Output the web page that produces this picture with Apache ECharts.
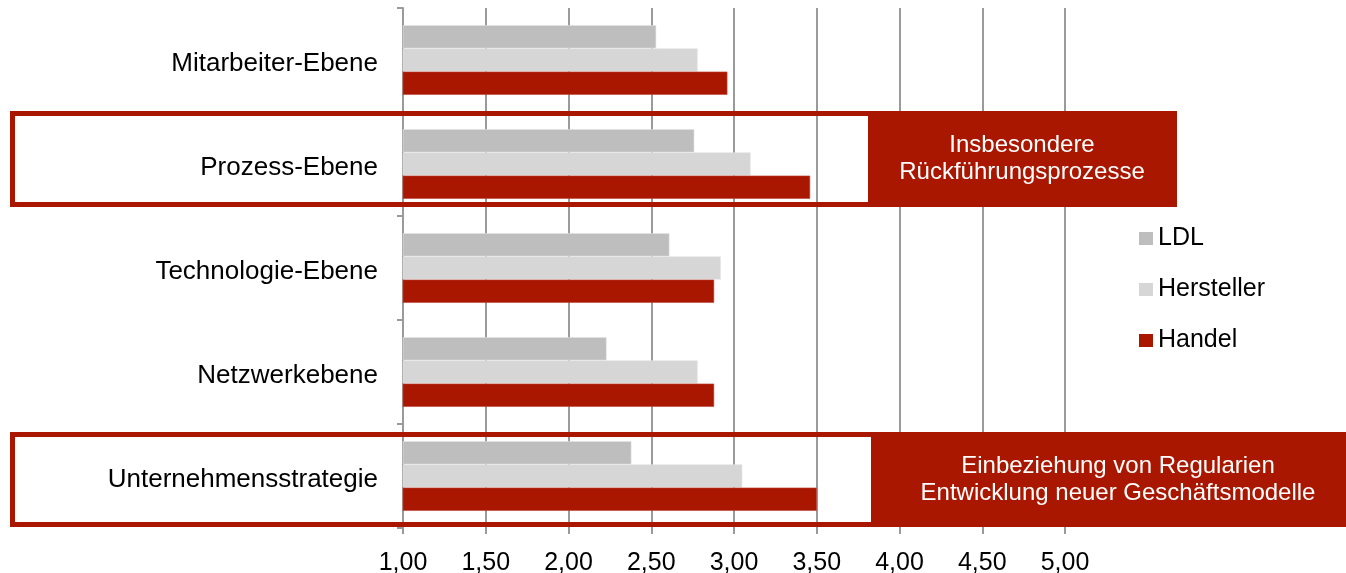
<!DOCTYPE html>
<html>
<head>
<meta charset="utf-8">
<script src="https://cdn.jsdelivr.net/npm/echarts@6/dist/echarts.min.js"></script>
<style>
  html, body { margin: 0; padding: 0; background: #ffffff; }
  #chart { width: 1346px; height: 573px; }
</style>
</head>
<body>
<div id="chart"></div>
<script>
// Ebenen (top to bottom)
const categories = ['Mitarbeiter-Ebene', 'Prozess-Ebene', 'Technologie-Ebene', 'Netzwerkebene', 'Unternehmensstrategie'];
const seriesNames = ['LDL', 'Hersteller', 'Handel'];
const ldl        = [2.53, 2.76, 2.61, 2.23, 2.38];
const hersteller = [2.78, 3.10, 2.92, 2.78, 3.05];
const handel     = [2.96, 3.46, 2.88, 2.88, 3.50];
const xTicks = [1, 1.5, 2, 2.5, 3, 3.5, 4, 4.5, 5];
const noteProzess = ['Insbesondere', 'Rückführungsprozesse'];
const noteStrategie = ['Einbeziehung von Regularien', 'Entwicklung neuer Geschäftsmodelle'];

const RED = '#aa1700';
const FONT = '"Liberation Sans", Arial, sans-serif';
const colors = ['#bebebe', '#d6d6d6', RED];

const chart = echarts.init(document.getElementById('chart'), null, { renderer: 'canvas' });

const values = [ldl, hersteller, handel];
const series = seriesNames.map((name, i) => ({
  name,
  type: 'bar',
  data: values[i],
  barGap: '0%',
  barCategoryGap: '33%',
  itemStyle: { color: colors[i], borderColor: i === 2 ? '#c0453a' : '#e2e2e2', borderWidth: 0.6 },
  z: 3
}));

chart.setOption({
  animation: false,
  backgroundColor: '#ffffff',
  textStyle: { fontFamily: FONT },
  grid: { left: 403, right: 281, top: 8, bottom: 45, containLabel: false, outerBoundsMode: 'none' },
  legend: {
    orient: 'vertical',
    left: 1139,
    top: 226,
    padding: 0,
    itemWidth: 14,
    itemHeight: 13,
    itemGap: 26,
    icon: 'rect',
    itemStyle: { borderWidth: 0 },
    textStyle: { fontSize: 25, color: '#000', fontFamily: FONT },
    data: seriesNames
  },
  xAxis: {
    type: 'value',
    min: xTicks[0],
    max: xTicks[xTicks.length - 1],
    interval: xTicks[1] - xTicks[0],
    axisLine: { show: false },
    axisTick: { show: true, length: 6, lineStyle: { color: '#9a9a9a', width: 2 } },
    splitLine: { show: true, lineStyle: { color: '#9a9a9a', width: 2 } },
    axisLabel: {
      fontSize: 25, color: '#000', fontFamily: FONT, margin: 23,
      formatter: v => v.toFixed(2).replace('.', ',')
    }
  },
  yAxis: {
    type: 'category',
    inverse: true,
    data: categories,
    axisLine: { show: true, lineStyle: { color: '#9a9a9a', width: 2 } },
    axisTick: { show: true, length: 6, lineStyle: { color: '#9a9a9a', width: 2 } },
    axisLabel: {
      margin: 25,
      formatter: v => '{c|' + v + '}',
      rich: { c: { fontSize: 26, color: '#000', fontFamily: FONT, padding: [8, 0, 0, 0] } }
    }
  },
  series
});

// Highlight frames with explanatory notes, anchored to the category bands
function bandCenter(idx) {
  return chart.convertToPixel({ yAxisIndex: 0 }, categories[idx]);
}

// splitX is where the white inner area meets the filled note box
function frame(idx, top, bottom, splitX, fillRight, lines, textX) {
  const c = bandCenter(idx);
  const y0 = c + top;
  const y1 = c + bottom;
  const lw = 5;
  return [
    {
      type: 'rect', z: 50,
      shape: { x: 10 + lw / 2, y: y0 + lw / 2, width: splitX - 10, height: y1 - y0 - lw },
      style: { fill: null, stroke: RED, lineWidth: lw }
    },
    {
      type: 'rect', z: 51,
      shape: { x: splitX, y: y0, width: fillRight - splitX, height: y1 - y0 },
      style: { fill: RED }
    },
    {
      type: 'text', z: 52,
      x: textX, y: (y0 + y1) / 2,
      style: {
        text: lines.join('\n'),
        fill: '#ffffff',
        font: '24px ' + FONT,
        lineHeight: 27,
        align: 'center',
        verticalAlign: 'middle'
      }
    }
  ];
}

chart.setOption({
  graphic: {
    elements: [
      ...frame(1, -53, 43, 868, 1177, noteProzess, 1022),
      ...frame(4, -44, 51, 871, 1360, noteStrategie, 1118)
    ]
  }
});
</script>
</body>
</html>
